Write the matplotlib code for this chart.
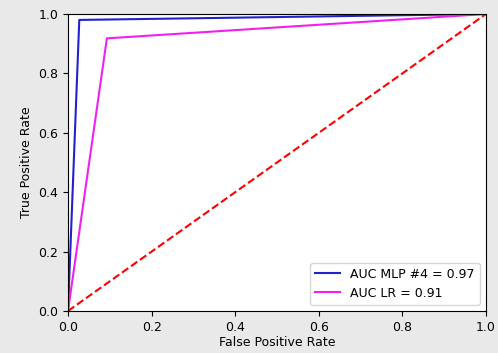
import matplotlib.pyplot as plt

# ROC curve points
fpr_mlp = [0.0, 0.027, 1.0]
tpr_mlp = [0.0, 0.98, 1.0]
fpr_lr = [0.0, 0.093, 1.0]
tpr_lr = [0.0, 0.918, 1.0]
auc_mlp = 0.97
auc_lr = 0.91

plt.rcParams['font.size'] = 9

fig = plt.figure(figsize=(4.98, 3.53), dpi=100, facecolor='#e9e9e9')
ax = fig.add_axes([68 / 498, 42 / 353, 418 / 498, 297 / 353])

ax.plot(fpr_mlp, tpr_mlp, color='#2222cc', lw=1.5, label='AUC MLP #4 = %0.2f' % auc_mlp)
ax.plot(fpr_lr, tpr_lr, color='#f020f0', lw=1.5, label='AUC LR = %0.2f' % auc_lr)
ax.plot([0, 1], [0, 1], 'r--', lw=1.5)

ax.set_xlim(0, 1)
ax.set_ylim(0, 1)
ax.set_xlabel('False Positive Rate', labelpad=2)
ax.set_ylabel('True Positive Rate')
ax.legend(loc='lower right')

fig.savefig('out.png', dpi=100, facecolor=fig.get_facecolor())
